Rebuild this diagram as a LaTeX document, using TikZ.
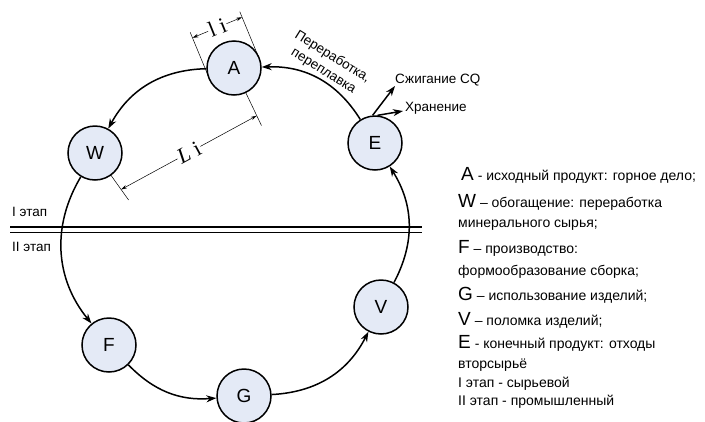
\documentclass[tikz,border=0pt]{standalone}
\usepackage{fontspec}
\setmainfont{Liberation Sans}
\newfontfamily\dimfont{Liberation Serif}
\usetikzlibrary{arrows.meta}
\definecolor{nodefill}{RGB}{228,234,246}
\begin{document}
\begin{tikzpicture}[x=1pt,y=-1pt,
  stage/.style={circle, draw, line width=1.5pt, fill=nodefill, minimum size=54pt, inner sep=0pt, font=\fontsize{19}{19}\selectfont},
  flow/.style={line width=1.5pt, -{Stealth[length=10pt,width=7pt]}},
  dimline/.style={line width=0.5pt},
  dimarr/.style={line width=0.5pt, {Stealth[length=6pt,width=3.5pt]}-{Stealth[length=6pt,width=3.5pt]}},
  dimtext/.style={fill=white, inner sep=1pt, font=\dimfont\fontsize{22}{22}\selectfont},
  lbl/.style={inner sep=0pt, font=\fontsize{13.5}{17}\selectfont},
  leg/.style={anchor=base west, inner sep=0pt, font=\fontsize{14}{16}\selectfont},
  bigl/.style={}
]
\useasboundingbox (0,0) rectangle (705,421);
\newcommand{\bigletter}[1]{{\fontsize{19}{19}\selectfont #1}}
% dimension extension lines
\coordinate (tl1) at (209.2,78.3);  \coordinate (tl2) at (190.2,32.3);
\coordinate (tr1) at (258.8,57.7);  \coordinate (tr2) at (239.8,11.7);
\coordinate (ra1) at (245.6,92.3);  \coordinate (ra2) at (261.5,125.6);
\coordinate (rw1) at (110.7,174.9); \coordinate (rw2) at (128.6,200);
\coordinate (dl) at (192.5,37.8);   \coordinate (dr) at (242.1,17.2);
\coordinate (Dl) at (121.1,189.5);  \coordinate (Dr) at (256.8,115.7);
\draw[dimline] (tl1) -- (tl2);
\draw[dimline] (tr1) -- (tr2);
\draw[dimline] (ra1) -- (ra2);
\draw[dimline] (rw1) -- (rw2);
\draw[dimarr] (dl) -- (dr) node[midway, dimtext, rotate=22] {l i};
\draw[dimarr] (Dl) -- (Dr) node[midway, dimtext, rotate=28.5] {\textit{L} i};
% stage separator
\coordinate (s1a) at (10,227);  \coordinate (s1b) at (422,227);
\coordinate (s2a) at (10,232.5);  \coordinate (s2b) at (422,232.5);
\draw[line width=1.5pt] (s1a) -- (s1b);
\draw[line width=1.5pt] (s2a) -- (s2b);
\node[lbl, anchor=west] (st1) at (12,212) {I этап};
\node[lbl, anchor=west] (st2) at (12,247) {II этап};
% nodes
\node[stage] (A) at (234,68) {A};
\node[stage] (W) at (95,153) {W};
\node[stage] (F) at (109,345) {F};
\node[stage] (G) at (244,396) {G};
\node[stage] (V) at (381,307) {V};
\node[stage] (E) at (375,143) {E};
% cycle
\draw[flow] (E) to[bend right=30] (A);
\draw[flow] (A) to[bend right=30] (W);
\draw[flow] (W) to[bend right=35] (F);
\draw[flow] (F) to[bend right=25] (G);
\draw[flow] (G) to[bend right=30] (V);
\draw[flow] (V) to[bend right=30] (E);
\node[lbl, rotate=-32, align=center] (rec) at (328,64) {Переработка,\\переплавка};
% outputs of E
\coordinate (burn) at (395,86);
\coordinate (store) at (403,111);
\draw[flow] (E.95) -- (burn);
\draw[flow] (E.85) -- (store);
\node[lbl, anchor=west] (burnt) at (395,80) {Сжигание CQ};
\node[lbl, anchor=west] (storet) at (405,108) {Хранение};
% legend
\node[leg] (l1) at (461,180) {\bigletter{A} - исходный продукт: горное дело;};
\node[leg] (l2) at (458,207) {\bigletter{W} – обогащение: переработка};
\node[leg] (l3) at (458,227) {минерального сырья;};
\node[leg] (l4) at (458,253) {\bigletter{F} – производство:};
\node[leg] (l5) at (458,275) {формообразование сборка;};
\node[leg] (l6) at (458,300) {\bigletter{G} – использование изделий;};
\node[leg] (l7) at (458,325) {\bigletter{V} – поломка изделий;};
\node[leg] (l8) at (458,348) {\bigletter{E} - конечный продукт: отходы};
\node[leg] (l9) at (458,368) {вторсырьё};
\node[leg] (l10) at (458,387) {I этап - сырьевой};
\node[leg] (l11) at (458,405) {II этап - промышленный};
\end{tikzpicture}
\end{document}
